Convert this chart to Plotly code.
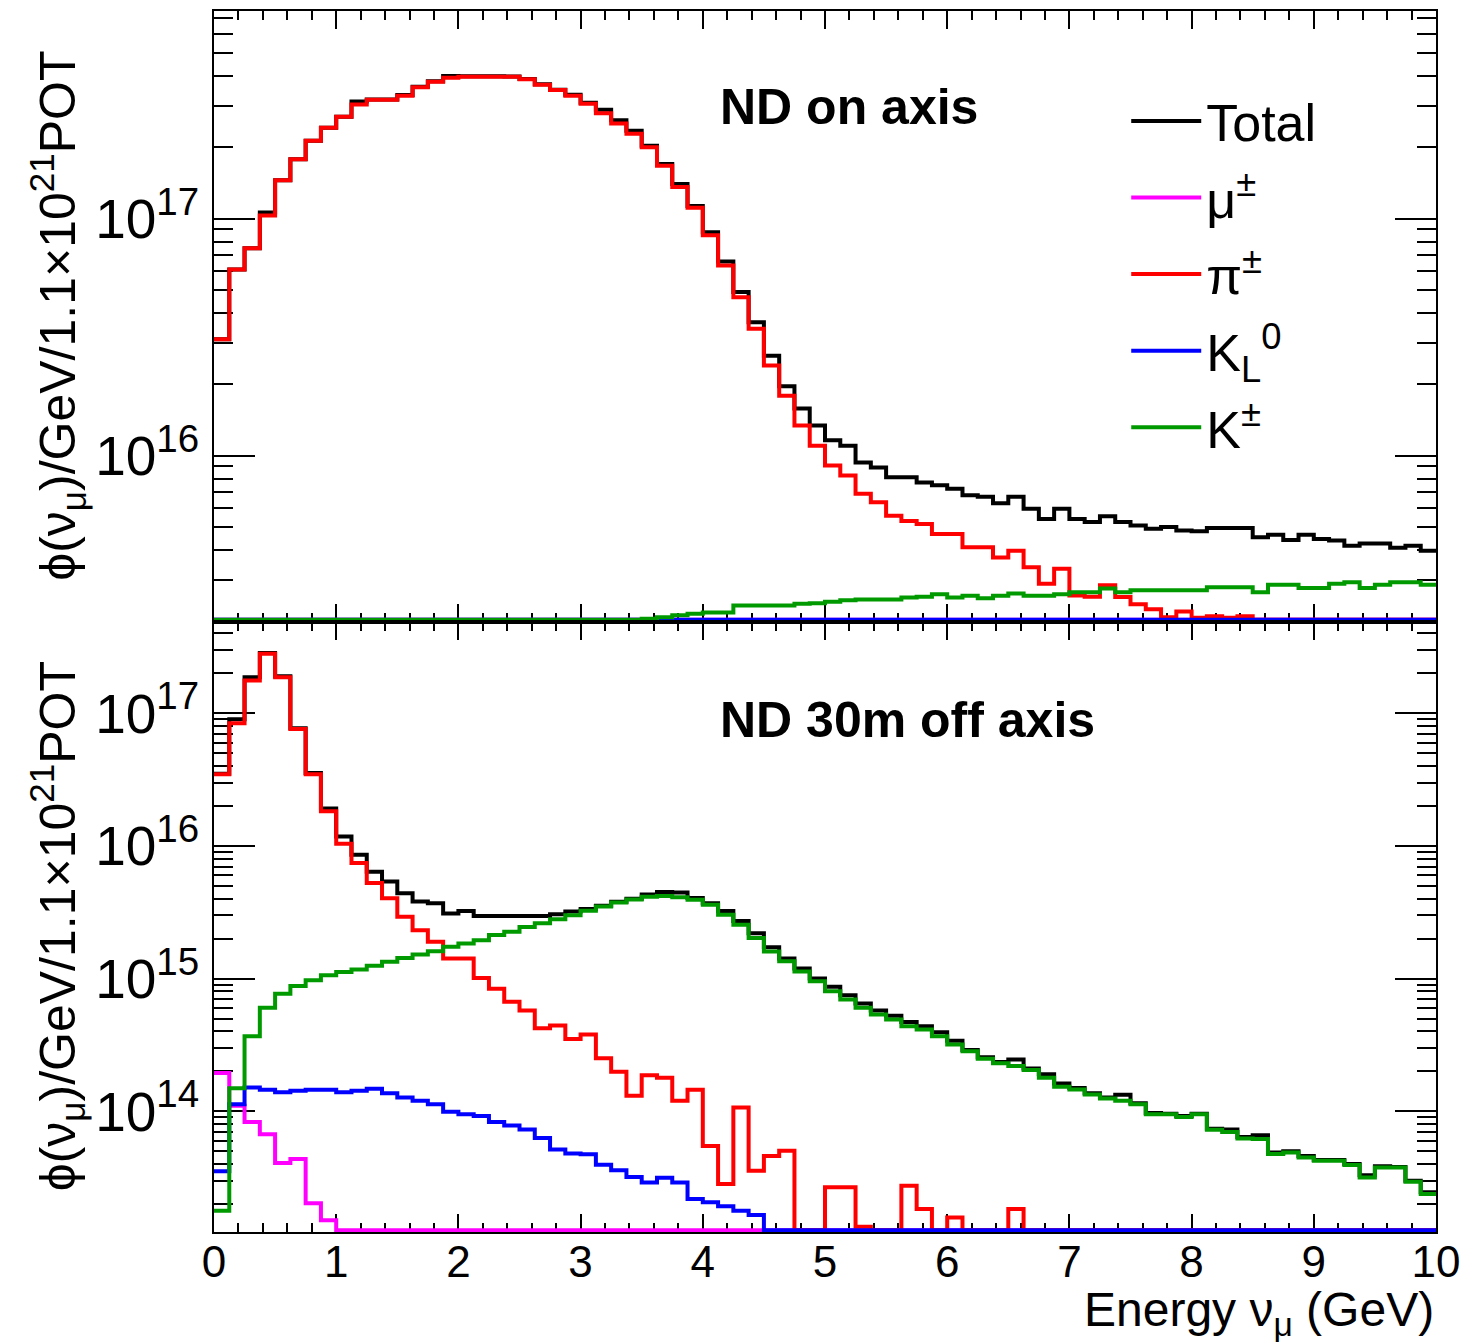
import numpy as np
import plotly.graph_objects as go
from plotly.subplots import make_subplots

# ---------------- binning ----------------
n_bins = 80
e_min, e_max = 0.0, 10.0

# ---------------- data: ND on axis (top panel) ----------------
top_total = [
    3.1e16, 6.1e16, 7.5e16, 1.06e17, 1.45e17, 1.78e17, 2.13e17, 2.42e17, 2.69e17, 3.12e17,
    3.18e17, 3.18e17, 3.32e17, 3.6e17, 3.8e17, 4.0e17, 3.99e17, 3.99e17, 3.99e17, 3.98e17,
    3.88e17, 3.69e17, 3.5e17, 3.33e17, 3.08e17, 2.88e17, 2.6e17, 2.35e17, 2.03e17, 1.7e17,
    1.4e17, 1.13e17, 8.75e16, 6.6e16, 4.9e16, 3.65e16, 2.64e16, 1.96e16, 1.58e16, 1.34e16,
    1.16e16, 1.10e16, 9.36e15, 8.9e15, 8.1e15, 8.1e15, 7.7e15, 7.5e15, 7.25e15, 6.8e15,
    6.7e15, 6.3e15, 6.7e15, 5.96e15, 5.4e15, 5.96e15, 5.4e15, 5.24e15, 5.55e15, 5.24e15,
    5.07e15, 4.91e15, 5.0e15, 4.83e15, 4.8e15, 4.95e15, 4.95e15, 4.95e15, 4.52e15, 4.63e15,
    4.4e15, 4.63e15, 4.45e15, 4.38e15, 4.17e15, 4.26e15, 4.26e15, 4.08e15, 4.17e15, 3.97e15,
]
top_mu = [
    0, 0, 0, 0, 0, 0, 0, 0, 0, 0,
    0, 0, 0, 0, 0, 0, 0, 0, 0, 0,
    0, 0, 0, 0, 0, 0, 0, 0, 0, 0,
    0, 0, 0, 0, 0, 0, 0, 0, 0, 0,
    0, 0, 0, 0, 0, 0, 0, 0, 0, 0,
    0, 0, 0, 0, 0, 0, 0, 0, 0, 0,
    0, 0, 0, 0, 0, 0, 0, 0, 0, 0,
    0, 0, 0, 0, 0, 0, 0, 0, 0, 0,
]
top_pi = [
    3.1e16, 6.1e16, 7.5e16, 1.03e17, 1.45e17, 1.78e17, 2.13e17, 2.42e17, 2.69e17, 3.03e17,
    3.17e17, 3.17e17, 3.3e17, 3.58e17, 3.78e17, 3.93e17, 3.97e17, 3.97e17, 3.97e17, 3.97e17,
    3.87e17, 3.67e17, 3.49e17, 3.3e17, 3.05e17, 2.78e17, 2.52e17, 2.28e17, 2.0e17, 1.67e17,
    1.36e17, 1.11e17, 8.5e16, 6.34e16, 4.66e16, 3.43e16, 2.4e16, 1.79e16, 1.34e16, 1.10e16,
    9.08e15, 8.24e15, 6.9e15, 6.35e15, 5.58e15, 5.3e15, 5.15e15, 4.67e15, 4.67e15, 4.1e15,
    4.1e15, 3.72e15, 3.97e15, 3.38e15, 2.88e15, 3.33e15, 2.57e15, 2.54e15, 2.84e15, 2.53e15,
    2.36e15, 2.25e15, 2.08e15, 2.2e15, 2.07e15, 2.1e15, 2.07e15, 2.1e15, 0, 0,
    0, 0, 0, 0, 0, 0, 0, 0, 0, 0,
]
top_kl = [
    0, 0, 0, 0, 0, 0, 0, 0, 0, 0,
    0, 0, 0, 0, 0, 0, 0, 0, 0, 0,
    0, 0, 0, 0, 0, 0, 0, 0, 0, 0,
    0, 0, 0, 0, 0, 0, 0, 0, 0, 0,
    0, 0, 0, 0, 0, 0, 0, 0, 0, 0,
    0, 0, 0, 0, 0, 0, 0, 0, 0, 0,
    0, 0, 0, 0, 0, 0, 0, 0, 0, 0,
    0, 0, 0, 0, 0, 0, 0, 0, 0, 0,
]
top_kpm = [
    0, 0, 0, 0, 0, 0, 0, 0, 0, 0,
    0, 0, 0, 0, 0, 0, 0, 0, 0, 0,
    0, 0, 0, 0, 0, 0, 0, 2.02e15, 2.05e15, 2.08e15,
    2.12e15, 2.15e15, 2.18e15, 2.18e15, 2.33e15, 2.33e15, 2.33e15, 2.33e15, 2.37e15, 2.38e15,
    2.42e15, 2.45e15, 2.47e15, 2.47e15, 2.47e15, 2.52e15, 2.54e15, 2.6e15, 2.52e15, 2.56e15,
    2.5e15, 2.56e15, 2.62e15, 2.56e15, 2.56e15, 2.6e15, 2.65e15, 2.65e15, 2.75e15, 2.65e15,
    2.7e15, 2.7e15, 2.7e15, 2.7e15, 2.7e15, 2.78e15, 2.78e15, 2.78e15, 2.65e15, 2.85e15,
    2.85e15, 2.76e15, 2.76e15, 2.88e15, 2.92e15, 2.76e15, 2.85e15, 2.92e15, 2.92e15, 2.85e15,
]

# ---------------- data: ND 30m off axis (bottom panel) ----------------
bot_total = [
    3.5e16, 9.0e16, 1.87e17, 2.85e17, 1.9e17, 7.7e16, 3.55e16, 1.92e16, 1.18e16, 8.6e15,
    6.4e15, 5.4e15, 4.4e15, 3.81e15, 3.7e15, 3.1e15, 3.23e15, 2.97e15, 2.97e15, 2.97e15,
    2.97e15, 2.97e15, 3.05e15, 3.2e15, 3.35e15, 3.55e15, 3.8e15, 4.0e15, 4.3e15, 4.5e15,
    4.45e15, 4.05e15, 3.7e15, 3.23e15, 2.72e15, 2.2e15, 1.72e15, 1.42e15, 1.19e15, 1.0e15,
    8.7e14, 7.5e14, 6.5e14, 5.75e14, 5.25e14, 4.7e14, 4.38e14, 3.95e14, 3.4e14, 2.9e14,
    2.55e14, 2.35e14, 2.46e14, 2.1e14, 1.9e14, 1.62e14, 1.5e14, 1.37e14, 1.27e14, 1.33e14,
    1.15e14, 9.7e13, 9.6e13, 9.2e13, 9.6e13, 7.4e13, 7.3e13, 6.4e13, 6.6e13, 4.9e13,
    5.0e13, 4.6e13, 4.3e13, 4.3e13, 4.0e13, 3.3e13, 3.85e13, 3.8e13, 3.0e13, 2.45e13,
]
bot_mu = [
    1.94e14, 1.1e14, 8.3e13, 6.7e13, 4.08e13, 4.37e13, 2.03e13, 1.51e13, 0, 0,
    0, 0, 0, 0, 0, 0, 0, 0, 0, 0,
    0, 0, 0, 0, 0, 0, 0, 0, 0, 0,
    0, 0, 0, 0, 0, 0, 0, 0, 0, 0,
    0, 0, 0, 0, 0, 0, 0, 0, 0, 0,
    0, 0, 0, 0, 0, 0, 0, 0, 0, 0,
    0, 0, 0, 0, 0, 0, 0, 0, 0, 0,
    0, 0, 0, 0, 0, 0, 0, 0, 0, 0,
]
bot_pi = [
    3.47e16, 8.4e16, 1.77e17, 2.81e17, 1.87e17, 7.6e16, 3.47e16, 1.83e16, 1.04e16, 7.43e15,
    5.25e15, 4.04e15, 2.93e15, 2.32e15, 1.9e15, 1.42e15, 1.42e15, 1.01e15, 8.4e14, 6.7e14,
    5.75e14, 4.23e14, 4.44e14, 3.51e14, 3.79e14, 2.51e14, 1.99e14, 1.31e14, 1.87e14, 1.79e14,
    1.2e14, 1.45e14, 5.48e13, 2.83e13, 1.07e14, 3.56e13, 4.61e13, 5.03e13, 0, 0,
    2.67e13, 2.67e13, 1.35e13, 0, 0, 2.75e13, 1.83e13, 0, 1.58e13, 0,
    0, 0, 1.83e13, 0, 0, 0, 0, 0, 0, 0,
    0, 0, 0, 0, 0, 0, 0, 0, 0, 0,
    0, 0, 0, 0, 0, 0, 0, 0, 0, 0,
]
bot_kl = [
    3.53e13, 1.13e14, 1.51e14, 1.45e14, 1.39e14, 1.43e14, 1.45e14, 1.45e14, 1.39e14, 1.43e14,
    1.48e14, 1.37e14, 1.27e14, 1.2e14, 1.13e14, 9.9e13, 9.5e13, 9.2e13, 8.3e13, 7.8e13,
    7.3e13, 6.3e13, 5.15e13, 4.8e13, 4.75e13, 3.96e13, 3.6e13, 3.2e13, 2.9e13, 3.16e13,
    2.9e13, 2.18e13, 2.06e13, 1.92e13, 1.78e13, 1.65e13, 0, 0, 0, 0,
    0, 0, 0, 0, 0, 0, 0, 0, 0, 0,
    0, 0, 0, 0, 0, 0, 0, 0, 0, 0,
    0, 0, 0, 0, 0, 0, 0, 0, 0, 0,
    0, 0, 0, 0, 0, 0, 0, 0, 0, 0,
]
bot_kpm = [
    1.78e13, 1.49e14, 3.68e14, 6.03e14, 7.7e14, 8.8e14, 9.7e14, 1.06e15, 1.12e15, 1.17e15,
    1.25e15, 1.34e15, 1.43e15, 1.52e15, 1.61e15, 1.74e15, 1.84e15, 1.95e15, 2.13e15, 2.26e15,
    2.45e15, 2.62e15, 2.8e15, 3.0e15, 3.25e15, 3.5e15, 3.75e15, 3.95e15, 4.15e15, 4.2e15,
    4.1e15, 3.93e15, 3.6e15, 3.03e15, 2.55e15, 2.02e15, 1.6e15, 1.35e15, 1.13e15, 9.55e14,
    8.04e14, 6.96e14, 6.02e14, 5.36e14, 4.92e14, 4.38e14, 4.14e14, 3.68e14, 3.19e14, 2.84e14,
    2.49e14, 2.3e14, 2.19e14, 2.05e14, 1.79e14, 1.53e14, 1.46e14, 1.34e14, 1.25e14, 1.2e14,
    1.13e14, 9.5e13, 9.5e13, 9.06e13, 9.5e13, 7.25e13, 6.99e13, 6.23e13, 6.17e13, 4.76e13,
    4.9e13, 4.49e13, 4.24e13, 4.24e13, 3.93e13, 3.17e13, 3.77e13, 3.77e13, 2.94e13, 2.38e13,
]

series_names = ["Total", "μ<sup>±</sup>", "π<sup>±</sup>", "K<sub>L</sub><sup>0</sup>", "K<sup>±</sup>"]
series_colors = ["#000000", "#ff00ff", "#ff0000", "#0000ff", "#009a00"]
top_series = [top_total, top_mu, top_pi, top_kl, top_kpm]
bot_series = [bot_total, bot_mu, bot_pi, bot_kl, bot_kpm]

# log10 y ranges of the two pads
top_range = [15.30, 17.876]
bot_range = [13.09, 17.692]

edges = np.linspace(e_min, e_max, n_bins + 1)

FONT = "Liberation Sans, Arial, sans-serif"

fig = make_subplots(rows=2, cols=1, shared_xaxes=False, vertical_spacing=0)


def step_y(vals, yrange, pad_px, pad_height_px):
    # histogram outline: values below the pad minimum are drawn on the frame (ROOT style)
    floor = 10 ** (yrange[0] + (yrange[1] - yrange[0]) * pad_px / pad_height_px)
    v = np.maximum(np.asarray(vals, dtype=float), floor)
    return np.append(v, v[-1])


pad_h = 610.5
for row, series, yr in [(1, top_series, top_range), (2, bot_series, bot_range)]:
    for name, color, vals in zip(series_names, series_colors, series):
        fig.add_trace(
            go.Scatter(
                x=edges,
                y=step_y(vals, yr, 1.8, pad_h),
                mode="lines",
                line=dict(shape="hv", color=color, width=4),
                name=name,
                legendgroup=name,
                showlegend=(row == 1),
                hoverinfo="skip",
            ),
            row=row,
            col=1,
        )

xaxis_common = dict(
    range=[e_min, e_max],
    showline=True,
    linewidth=2,
    linecolor="black",
    mirror="ticks",
    ticks="inside",
    ticklen=18,
    tickwidth=2,
    tickcolor="black",
    dtick=1,
    tick0=0,
    minor=dict(ticks="inside", ticklen=9, tickwidth=2, tickcolor="black", dtick=0.2, showgrid=False),
    showgrid=False,
    zeroline=False,
    layer="below traces",
)
yaxis_common = dict(
    type="log",
    showline=True,
    linewidth=2,
    linecolor="black",
    mirror="ticks",
    ticks="inside",
    ticklen=41,
    tickwidth=2,
    tickcolor="black",
    dtick=1,
    exponentformat="power",
    showexponent="all",
    minor=dict(ticks="inside", ticklen=19, tickwidth=2, tickcolor="black", dtick="D1", showgrid=False),
    showgrid=False,
    zeroline=False,
    layer="below traces",
    tickfont=dict(family=FONT, size=44, color="black"),
    ticklabelstandoff=4,
)

fig.update_xaxes(**xaxis_common)
fig.update_xaxes(showticklabels=False, row=1, col=1)
fig.update_xaxes(showticklabels=True, tickfont=dict(family=FONT, size=44, color="black"),
                 ticklabelstandoff=-10, row=2, col=1)
fig.update_yaxes(**yaxis_common)
fig.update_yaxes(range=top_range, row=1, col=1)
fig.update_yaxes(range=bot_range, row=2, col=1)

ytitle = "ϕ(ν<sub>μ</sub>)/GeV/1.1×10<sup>21</sup>POT"
annotations = [
    dict(text="<b>ND on axis</b>", x=0.4124, y=0.921, xref="paper", yref="paper",
         xanchor="left", yanchor="middle", showarrow=False,
         font=dict(family=FONT, size=50, color="black")),
    dict(text="<b>ND 30m off axis</b>", x=0.4124, y=0.4192, xref="paper", yref="paper",
         xanchor="left", yanchor="middle", showarrow=False,
         font=dict(family=FONT, size=50, color="black")),
    dict(text=ytitle, x=-0.128, y=0.75, xref="paper", yref="paper", textangle=-90,
         xanchor="center", yanchor="middle", showarrow=False,
         font=dict(family=FONT, size=50, color="black")),
    dict(text=ytitle, x=-0.128, y=0.25, xref="paper", yref="paper", textangle=-90,
         xanchor="center", yanchor="middle", showarrow=False,
         font=dict(family=FONT, size=50, color="black")),
    dict(text="Energy ν<sub>μ</sub> (GeV)", x=1.0, y=-0.0665, xref="paper", yref="paper",
         xanchor="right", yanchor="middle", showarrow=False,
         font=dict(family=FONT, size=48, color="black")),
]

# the page adds an 8px body margin, so the figure is 8px smaller than the window
fig.update_layout(
    width=1476,
    height=1336,
    margin=dict(l=206, r=48, t=3, b=112, autoexpand=False),
    paper_bgcolor="white",
    plot_bgcolor="white",
    font=dict(family=FONT, color="black"),
    annotations=annotations,
    legend=dict(
        x=0.7465, y=0.943, xanchor="left", yanchor="top",
        font=dict(family=FONT, size=52, color="black"),
        bgcolor="rgba(0,0,0,0)",
        tracegroupgap=6,
        itemwidth=70,
        traceorder="grouped",
    ),
)

fig.write_html("out.html")
